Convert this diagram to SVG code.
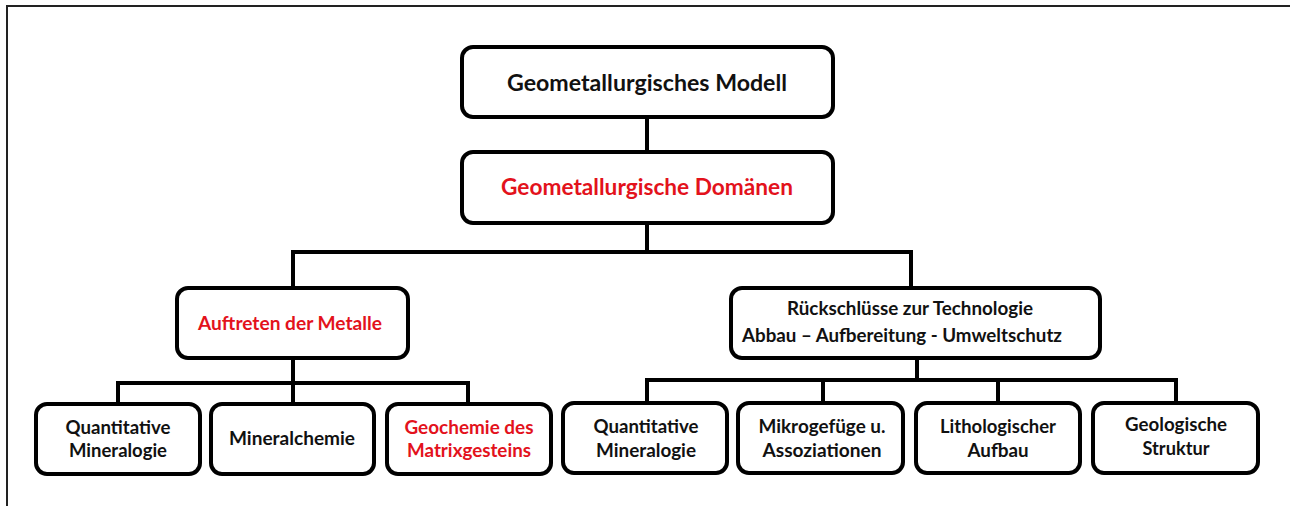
<svg xmlns="http://www.w3.org/2000/svg" width="1290" height="506" viewBox="0 0 1290 506">
<style>
.box{fill:#fff;stroke:#000;stroke-width:4}
.ln{fill:none;stroke:#000;stroke-width:4;stroke-linecap:square}
text{font-family:Lato,"Open Sans","Liberation Sans",sans-serif;font-weight:700;text-anchor:middle;fill:#111}
.big{font-size:22px}
.mid{font-size:18px}
.sm{font-size:18px}
.red{fill:#e3121c}
</style>
<rect width="1290" height="506" fill="#fff"/>
<path d="M7,506 V6 H1290" fill="none" stroke="#222" stroke-width="2"/>
<g id="connectors">
<path class="ln" d="M647,117 V152"/>
<path class="ln" d="M647,223 V252 M293,252 H911 M293,252 V288 M911,252 V288"/>
<path class="ln" d="M293,358 V383 M118,383 H468 M118,383 V404 M293,383 V404 M468,383 V404"/>
<path class="ln" d="M917,358 V380 M647,380 H1176 M647,380 V403 M823,380 V403 M998,380 V403 M1176,380 V403"/>
</g>
<g id="modell">
<rect class="box" x="462" y="47" width="371" height="70" rx="11"/>
<text class="big" x="647" y="91" textLength="280" lengthAdjust="spacingAndGlyphs">Geometallurgisches Modell</text>
</g>
<g id="domaenen">
<rect class="box" x="462" y="152" width="371" height="71" rx="11"/>
<text class="big red" x="647" y="195" textLength="292" lengthAdjust="spacingAndGlyphs">Geometallurgische Domänen</text>
</g>
<g id="auftreten">
<rect class="box" x="177" y="288" width="231" height="70" rx="11"/>
<text class="mid red" x="290" y="330" textLength="184" lengthAdjust="spacingAndGlyphs">Auftreten der Metalle</text>
</g>
<g id="rueckschluesse">
<rect class="box" x="731" y="288" width="369" height="70" rx="11"/>
<text class="mid" x="910" y="315" textLength="246" lengthAdjust="spacingAndGlyphs">Rückschlüsse zur Technologie</text>
<text class="mid" x="902" y="342" textLength="320" lengthAdjust="spacingAndGlyphs">Abbau – Aufbereitung - Umweltschutz</text>
</g>
<g id="quant1">
<rect class="box" x="36" y="404" width="164" height="70" rx="11"/>
<text class="sm" x="118" y="434" textLength="105" lengthAdjust="spacingAndGlyphs">Quantitative</text>
<text class="sm" x="118" y="457" textLength="98" lengthAdjust="spacingAndGlyphs">Mineralogie</text>
</g>
<g id="mineralchemie">
<rect class="box" x="211" y="404" width="163" height="70" rx="11"/>
<text class="sm" x="292" y="445" textLength="126" lengthAdjust="spacingAndGlyphs">Mineralchemie</text>
</g>
<g id="geochemie">
<rect class="box" x="387" y="404" width="164" height="70" rx="11"/>
<text class="sm red" x="469" y="434" textLength="129" lengthAdjust="spacingAndGlyphs">Geochemie des</text>
<text class="sm red" x="469" y="457" textLength="124" lengthAdjust="spacingAndGlyphs">Matrixgesteins</text>
</g>
<g id="quant2">
<rect class="box" x="563" y="403" width="164" height="70" rx="11"/>
<text class="sm" x="646" y="433" textLength="105" lengthAdjust="spacingAndGlyphs">Quantitative</text>
<text class="sm" x="646" y="457" textLength="100" lengthAdjust="spacingAndGlyphs">Mineralogie</text>
</g>
<g id="mikrogefuege">
<rect class="box" x="738" y="403" width="165" height="70" rx="11"/>
<text class="sm" x="822" y="433" textLength="127" lengthAdjust="spacingAndGlyphs">Mikrogefüge u.</text>
<text class="sm" x="822" y="457" textLength="119" lengthAdjust="spacingAndGlyphs">Assoziationen</text>
</g>
<g id="lithologisch">
<rect class="box" x="916" y="403" width="164" height="70" rx="11"/>
<text class="sm" x="998" y="433" textLength="116" lengthAdjust="spacingAndGlyphs">Lithologischer</text>
<text class="sm" x="998" y="457" textLength="61" lengthAdjust="spacingAndGlyphs">Aufbau</text>
</g>
<g id="geologisch">
<rect class="box" x="1093" y="403" width="165" height="70" rx="11"/>
<text class="sm" x="1176" y="431" textLength="102" lengthAdjust="spacingAndGlyphs">Geologische</text>
<text class="sm" x="1176" y="455" textLength="67" lengthAdjust="spacingAndGlyphs">Struktur</text>
</g>
</svg>
